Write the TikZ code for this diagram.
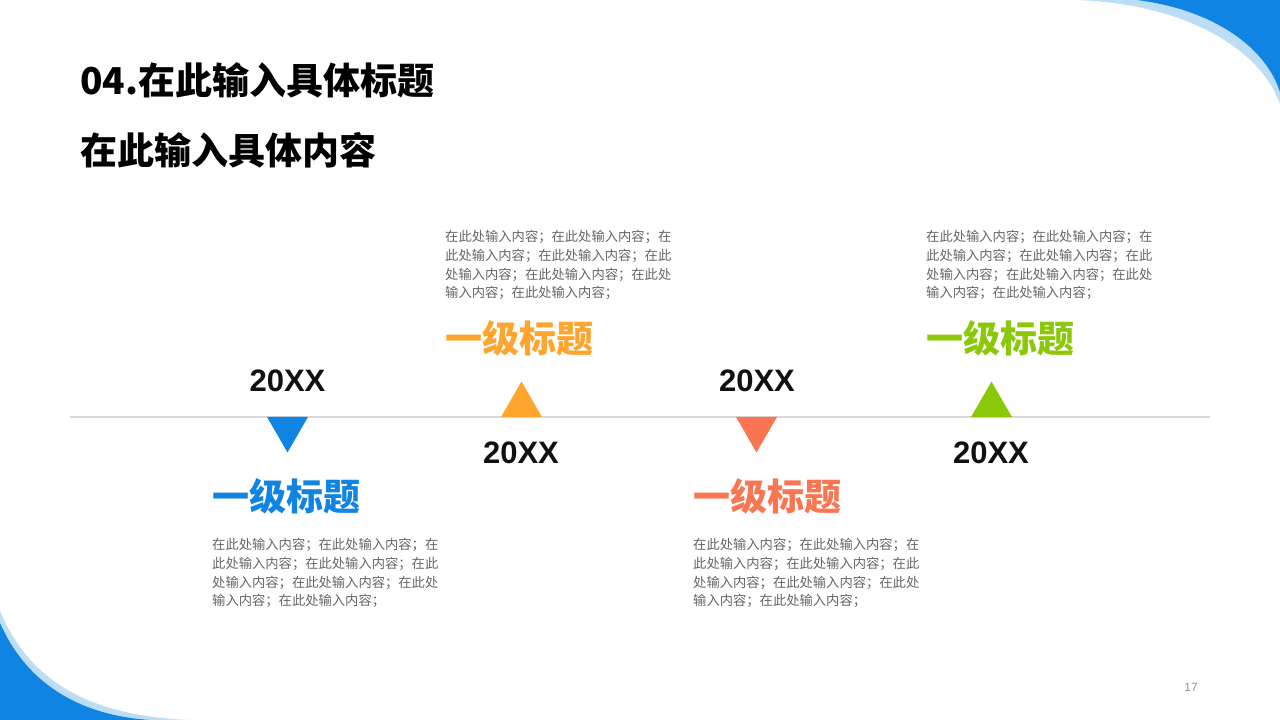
\documentclass[tikz,border=0pt]{standalone}
\usepackage{fontspec}
\usepackage{tikz}
\usepackage{xcolor}
\usetikzlibrary{shapes.geometric,positioning}
\setmainfont{Liberation Sans}
\newfontfamily\cjk{Noto Sans CJK SC}
\definecolor{DeckBlue}{HTML}{1084E2}
\definecolor{DeckLightBlue}{HTML}{BCDDF6}
\definecolor{DeckOrange}{HTML}{FFA42C}
\definecolor{DeckCoral}{HTML}{FA7552}
\definecolor{DeckGreen}{HTML}{8CC80A}
\definecolor{DeckBlack}{HTML}{111111}
\definecolor{DeckGray}{HTML}{666666}
\definecolor{DeckLine}{HTML}{D9D9D9}
\tikzset{
    % Page title
    titlenode/.style={
        anchor=west,
        inner sep=0pt,
        text=black,
        font=\cjk\bfseries\fontsize{37}{40}\selectfont
    },
    % Year label
    yearnode/.style={
        inner sep=0pt,
        text=DeckBlack,
        font=\bfseries\fontsize{31}{34}\selectfont
    },
    % Coloured heading
    headnode/.style={
        anchor=west,
        inner sep=0pt,
        font=\cjk\bfseries\fontsize{37}{40}\selectfont
    },
    % Body text block
    bodynode/.style={
        anchor=north west,
        inner sep=0pt,
        align=left,
        text=DeckGray,
        font=\cjk\fontsize{13.3}{18.8}\selectfont
    },
    % Marker triangles
    uptri/.style={
        regular polygon,
        regular polygon sides=3,
        minimum size=47.3pt,
        inner sep=0pt,
        outer sep=0pt,
        fill=#1
    },
    downtri/.style={
        uptri=#1,
        shape border rotate=180
    },
    % Timeline
    timeline/.style={
        line width=1.5pt,
        draw=DeckLine
    }
}
\begin{document}
\begin{tikzpicture}[x=1pt,y=-1pt]
        \useasboundingbox (0,0) rectangle (1280,720);
        \fill[white] (0,0) rectangle (1280,720);

        % Corner decorations
        \fill[DeckLightBlue] (1077,0) .. controls (1190,4) and (1262,52) .. (1280,104) -- (1280,0) -- cycle;
        \fill[DeckBlue] (1137,0) .. controls (1215,10) and (1266,48) .. (1280,92) -- (1280,0) -- cycle;
        \fill[DeckLightBlue] (0,611) .. controls (28,678) and (85,716) .. (190,720) -- (0,720) -- cycle;
        \fill[DeckBlue] (0,623) .. controls (25,680) and (75,715) .. (150,720) -- (0,720) -- cycle;

        % Titles
        \node[titlenode] (title) at (80,80) {04.在此输入具体标题};
        \node[titlenode] (subtitle) at (80,150) {在此输入具体内容};

        % Timeline
        \coordinate (lineL) at (70,417);
        \coordinate (lineR) at (1210,417);
        \draw[timeline] (lineL) -- (lineR);

        % Markers
        \node[downtri=DeckBlue] (tri1) at (287.5,428.8) {};
        \node[uptri=DeckOrange] (tri2) at (521.5,405.2) {};
        \node[downtri=DeckCoral] (tri3) at (756.5,428.8) {};
        \node[uptri=DeckGreen] (tri4) at (991.5,405.2) {};

        % Years
        \node[yearnode] (year1) at (287.5,381) {20XX};
        \node[yearnode] (year2) at (521,453) {20XX};
        \node[yearnode] (year3) at (757,381) {20XX};
        \node[yearnode] (year4) at (991,453) {20XX};

        % Headings
        \node[headnode,text=DeckBlue] (head1) at (212,496) {一级标题};
        \node[headnode,text=DeckOrange] (head2) at (445,338) {一级标题};
        \node[headnode,text=DeckCoral] (head3) at (693,496) {一级标题};
        \node[headnode,text=DeckGreen] (head4) at (926,338) {一级标题};

        % Body text
        \node[bodynode] (body1) at (212,538) {在此处输入内容；在此处输入内容；在\\此处输入内容；在此处输入内容；在此\\处输入内容；在此处输入内容；在此处\\输入内容；在此处输入内容；};
        \node[bodynode] (body2) at (445,230) {在此处输入内容；在此处输入内容；在\\此处输入内容；在此处输入内容；在此\\处输入内容；在此处输入内容；在此处\\输入内容；在此处输入内容；};
        \node[bodynode] (body3) at (693,538) {在此处输入内容；在此处输入内容；在\\此处输入内容；在此处输入内容；在此\\处输入内容；在此处输入内容；在此处\\输入内容；在此处输入内容；};
        \node[bodynode] (body4) at (926,230) {在此处输入内容；在此处输入内容；在\\此处输入内容；在此处输入内容；在此\\处输入内容；在此处输入内容；在此处\\输入内容；在此处输入内容；};

        % Page number
        \node[inner sep=0pt,text=DeckGray!70,font=\fontsize{12}{14}\selectfont] (pagenum) at (1191,687) {17};
    \end{tikzpicture}
\end{document}
